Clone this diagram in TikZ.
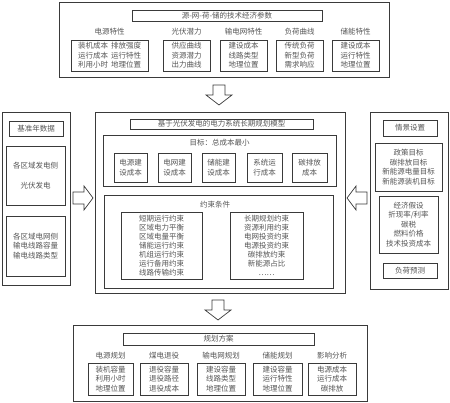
\documentclass[tikz,border=0pt]{standalone}
\usepackage{fontspec}
\newfontfamily\cjk{Noto Sans CJK SC}
\definecolor{linec}{HTML}{3A3A3A}
\definecolor{txtc}{HTML}{555555}
\tikzset{
  wh/.style 2 args={minimum width=#1pt, minimum height=#2pt},
  bx/.style={draw=linec, line width=0.7pt, inner sep=0pt, align=center, text=txtc,
    font=\cjk\fontsize{7.5}{9.5}\selectfont},
  lb/.style={inner sep=0pt, align=center, text=txtc, font=\cjk\fontsize{7.5}{9.5}\selectfont},
  blk/.style={draw=linec, fill=white, line width=0.7pt, line join=miter},
  darr/.pic={\draw[blk] (-6,-10) -- (6,-10) -- (6,0) -- (13,0) -- (0,10) -- (-13,0) -- (-6,0) -- cycle;},
  rarr/.pic={\draw[blk] (-10,-6) -- (1,-6) -- (1,-12) -- (10,0) -- (1,12) -- (1,6) -- (-10,6) -- cycle;},
  larr/.pic={\draw[blk] (10,-6) -- (-1,-6) -- (-1,-12) -- (-10,0) -- (-1,12) -- (-1,6) -- (10,6) -- cycle;}
}
\begin{document}
\begin{tikzpicture}[x=1pt,y=-1pt]
\useasboundingbox (0,0) rectangle (450,403);

% ---------- top block ----------
\node[bx, wh={330}{75}] (top) at (224,39.5) {};
\node[bx, wh={190}{11}] (toptitle) at (227,16) {源-网-荷-储的技术经济参数};
\node[lb] (h1) at (109.5,32) {电源特性};
\node[lb] (h2) at (186.5,32) {光伏潜力};
\node[lb] (h3) at (243.5,32) {输电网特性};
\node[lb] (h4) at (299.5,32) {负荷曲线};
\node[lb] (h5) at (355.5,32) {储能特性};
\node[bx, wh={77}{31}] (t1) at (109.5,55.5) {装机成本\hspace{3pt}排放强度\\运行成本\hspace{3pt}运行特性\\利用小时\hspace{3pt}地理位置};
\node[bx, wh={47}{31}] (t2) at (186.5,55.5) {供应曲线\\资源潜力\\出力曲线};
\node[bx, wh={47}{31}] (t3) at (243.5,55.5) {建设成本\\线路类型\\地理位置};
\node[bx, wh={47}{31}] (t4) at (299.5,55.5) {传统负荷\\新型负荷\\需求响应};
\node[bx, wh={47}{31}] (t5) at (355.5,55.5) {建设成本\\运行特性\\地理位置};

\pic at (219,95) {darr};

% ---------- middle block ----------
\node[bx, wh={250}{181}] (mid) at (220,202.5) {};
\node[bx, wh={183}{10}] (midtitle) at (221.5,124) {基于光伏发电的电力系统长期规划模型};
\node[bx, wh={233}{51}] (obj) at (219.5,160.5) {};
\node[lb] (objl) at (219.5,143) {目标：总成本最小};
\node[bx, wh={33}{29}] (c1) at (130.5,167.5) {电源建\\设成本};
\node[bx, wh={33}{29}] (c2) at (174.5,167.5) {电网建\\设成本};
\node[bx, wh={33}{29}] (c3) at (218.5,167.5) {储能建\\设成本};
\node[bx, wh={35}{29}] (c4) at (264.5,167.5) {系统运\\行成本};
\node[bx, wh={35}{29}] (c5) at (309.5,167.5) {碳排放\\成本};
\node[bx, wh={229}{93}] (con) at (218.5,241.5) {};
\node[lb] (conl) at (215,205) {约束条件};
\node[bx, wh={81}{67}, font=\cjk\fontsize{7.5}{9.1}\selectfont] (cl) at (161.5,245.5)
  {短期运行约束\\区域电力平衡\\区域电量平衡\\储能运行约束\\机组运行约束\\运行备用约束\\线路传输约束};
\node[bx, wh={73}{67}, font=\cjk\fontsize{7.5}{9.1}\selectfont] (cr) at (266.5,245.5)
  {长期规划约束\\资源利用约束\\电网投资约束\\电源投资约束\\碳排放约束\\新能源占比\\……};

% ---------- left block ----------
\node[bx, wh={68}{173}] (left) at (36,198.5) {};
\node[bx, wh={54}{15}] (lefttitle) at (36,128.5) {基准年数据};
\node[bx, wh={59}{59}] (l1) at (35.5,175.5) {各区域发电侧\\[11pt]光伏发电};
\node[bx, wh={59}{60}] (l2) at (35.5,246) {各区域电网侧\\输电线路容量\\输电线路类型};

\pic at (83,198) {rarr};

% ---------- right block ----------
\node[bx, wh={78}{177}] (right) at (409,200.5) {};
\node[bx, wh={54}{16}] (righttitle) at (410,128) {情景设置};
\node[bx, wh={67}{48}] (r1) at (408.5,167) {政策目标\\碳排放目标\\新能源电量目标\\新能源装机目标};
\node[bx, wh={59}{57}] (r2) at (408.5,224.5) {经济假设\\折现率/利率\\碳税\\燃料价格\\技术投资成本};
\node[bx, wh={54}{15}] (r3) at (410,270.5) {负荷预测};

\pic at (357,198) {larr};

\pic at (218,310) {darr};

% ---------- bottom block ----------
\node[bx, wh={294}{76}] (bot) at (220,363) {};
\node[bx, wh={191}{12}] (bottitle) at (218.5,339) {规划方案};
\node[lb] (g1) at (110.5,356) {电源规划};
\node[lb] (g2) at (164,356) {煤电退役};
\node[lb] (g3) at (221,356) {输电网规划};
\node[lb] (g4) at (277.5,356) {储能规划};
\node[lb] (g5) at (332,356) {影响分析};
\node[bx, wh={45}{32}] (b1) at (110.5,379) {装机容量\\利用小时\\地理位置};
\node[bx, wh={48}{32}] (b2) at (164,379) {退役容量\\退役路径\\退役成本};
\node[bx, wh={48}{32}] (b3) at (221,379) {建设容量\\线路类型\\地理位置};
\node[bx, wh={49}{32}] (b4) at (277.5,379) {建设容量\\运行特性\\地理位置};
\node[bx, wh={48}{32}] (b5) at (332,379) {电源成本\\运行成本\\碳排放};
\end{tikzpicture}
\end{document}
